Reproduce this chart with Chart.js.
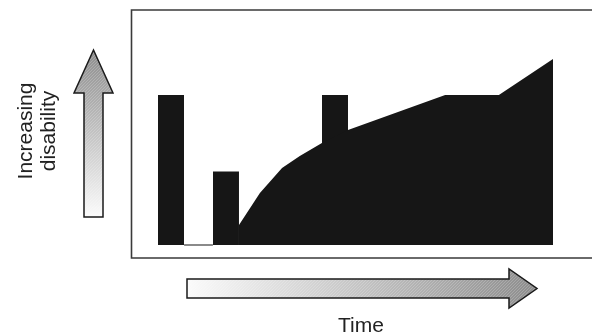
<!DOCTYPE html>
<html>
<head>
<meta charset="utf-8">
<script src="https://cdn.jsdelivr.net/npm/chart.js@4/dist/chart.umd.min.js"></script>
<style>
  body { margin: 0; background: #ffffff; }
  #wrap { position: relative; width: 592px; height: 335px; overflow: hidden; }
  #chart { position: absolute; left: 0; top: 0; }
  .lbl { position: absolute; font-family: "Liberation Sans", Arial, sans-serif; font-size: 21px; line-height: 23px; color: #222; text-align: center; }
  #ylbl { left: -34px; top: 108px; width: 140px; height: 46px; transform: rotate(-90deg); }
  #xlbl { left: 311px; top: 313px; width: 100px; }
</style>
</head>
<body>
<div id="wrap">
  <canvas id="chart" width="592" height="335"></canvas>
  <div class="lbl" id="ylbl">Increasing<br>disability</div>
  <div class="lbl" id="xlbl">Time</div>
</div>
<script>
// relapses drawn as blocks (time units 0-100)
var barLeft = [0, 13.9, 41.5];
var barRight = [6.6, 20.5, 48.1];
var barHeight = [10, 4.9, 10];

// progressive phase
var timeX = [20.5, 25.8, 31.4, 35.9, 41.5, 48.1, 72.7, 86.3, 100];
var disability = [1.33, 3.47, 5.13, 5.93, 6.8, 7.67, 10, 10, 12.4];

// recovery gap between the first two relapses
var gapX = [6.6, 13.9];
var gapY = [0, 0];

var fillColor = '#161616';

var datasets = [];

var areaPoints = [];
for (var i = 0; i < timeX.length; i++) {
  areaPoints.push({x: timeX[i], y: disability[i]});
}
datasets.push({
  data: areaPoints,
  borderWidth: 0,
  backgroundColor: fillColor,
  fill: 'origin',
  pointRadius: 0,
  tension: 0,
  clip: false
});

for (var j = 0; j < barLeft.length; j++) {
  datasets.push({
    data: [
      {x: barLeft[j], y: 0},
      {x: barLeft[j], y: barHeight[j]},
      {x: barRight[j], y: barHeight[j]},
      {x: barRight[j], y: 0}
    ],
    borderWidth: 0,
    backgroundColor: fillColor,
    fill: 'origin',
    pointRadius: 0,
    clip: false
  });
}

datasets.push({
  data: [{x: gapX[0], y: gapY[0]}, {x: gapX[1], y: gapY[1]}],
  borderColor: '#8a8a8a',
  borderWidth: 2,
  fill: false,
  pointRadius: 0,
  clip: false
});

function upArrowPath(ctx) {
  ctx.beginPath();
  ctx.moveTo(93.5, 50);
  ctx.lineTo(113, 93);
  ctx.lineTo(103, 93);
  ctx.lineTo(103, 217);
  ctx.lineTo(84, 217);
  ctx.lineTo(84, 93);
  ctx.lineTo(74, 93);
  ctx.closePath();
}

function rightArrowPath(ctx) {
  ctx.beginPath();
  ctx.moveTo(187, 279);
  ctx.lineTo(509, 279);
  ctx.lineTo(509, 269);
  ctx.lineTo(537, 288.5);
  ctx.lineTo(509, 308);
  ctx.lineTo(509, 298);
  ctx.lineTo(187, 298);
  ctx.closePath();
}

function drawArrow(ctx, makePath, grad, box) {
  makePath(ctx);
  ctx.fillStyle = grad;
  ctx.fill();
  // faint diagonal texture
  ctx.save();
  makePath(ctx);
  ctx.clip();
  ctx.strokeStyle = 'rgba(255,255,255,0.2)';
  ctx.lineWidth = 1;
  ctx.beginPath();
  var h = box[3] - box[1];
  for (var k = box[0] - h; k < box[2]; k += 3) {
    ctx.moveTo(k, box[3]);
    ctx.lineTo(k + h, box[1]);
  }
  ctx.stroke();
  ctx.restore();
  makePath(ctx);
  ctx.strokeStyle = '#1a1a1a';
  ctx.lineWidth = 1.5;
  ctx.stroke();
}

var decorPlugin = {
  id: 'decor',
  beforeDraw: function(chart) {
    var ctx = chart.ctx;
    ctx.save();

    // frame
    ctx.strokeStyle = '#3a3a3a';
    ctx.lineWidth = 1.6;
    ctx.beginPath();
    ctx.moveTo(600, 10);
    ctx.lineTo(131.5, 10);
    ctx.lineTo(131.5, 258);
    ctx.lineTo(600, 258);
    ctx.stroke();

    var g1 = ctx.createLinearGradient(0, 50, 0, 217);
    g1.addColorStop(0, '#8c8c8c');
    g1.addColorStop(1, '#fbfbfb');
    drawArrow(ctx, upArrowPath, g1, [70, 50, 115, 217]);

    var g2 = ctx.createLinearGradient(187, 0, 537, 0);
    g2.addColorStop(0, '#fbfbfb');
    g2.addColorStop(1, '#8c8c8c');
    drawArrow(ctx, rightArrowPath, g2, [185, 266, 540, 310]);

    ctx.restore();
  }
};

var ctx = document.getElementById('chart').getContext('2d');
var chart = new Chart(ctx, {
  type: 'line',
  data: { datasets: datasets },
  options: {
    responsive: false,
    animation: false,
    layout: { padding: { left: 158, right: 39, top: 59, bottom: 90 } },
    plugins: { legend: { display: false }, tooltip: { enabled: false } },
    scales: {
      x: { type: 'linear', min: 0, max: 100, display: false },
      y: { min: 0, max: 12.4, display: false }
    }
  },
  plugins: [decorPlugin]
});
</script>
</body>
</html>
